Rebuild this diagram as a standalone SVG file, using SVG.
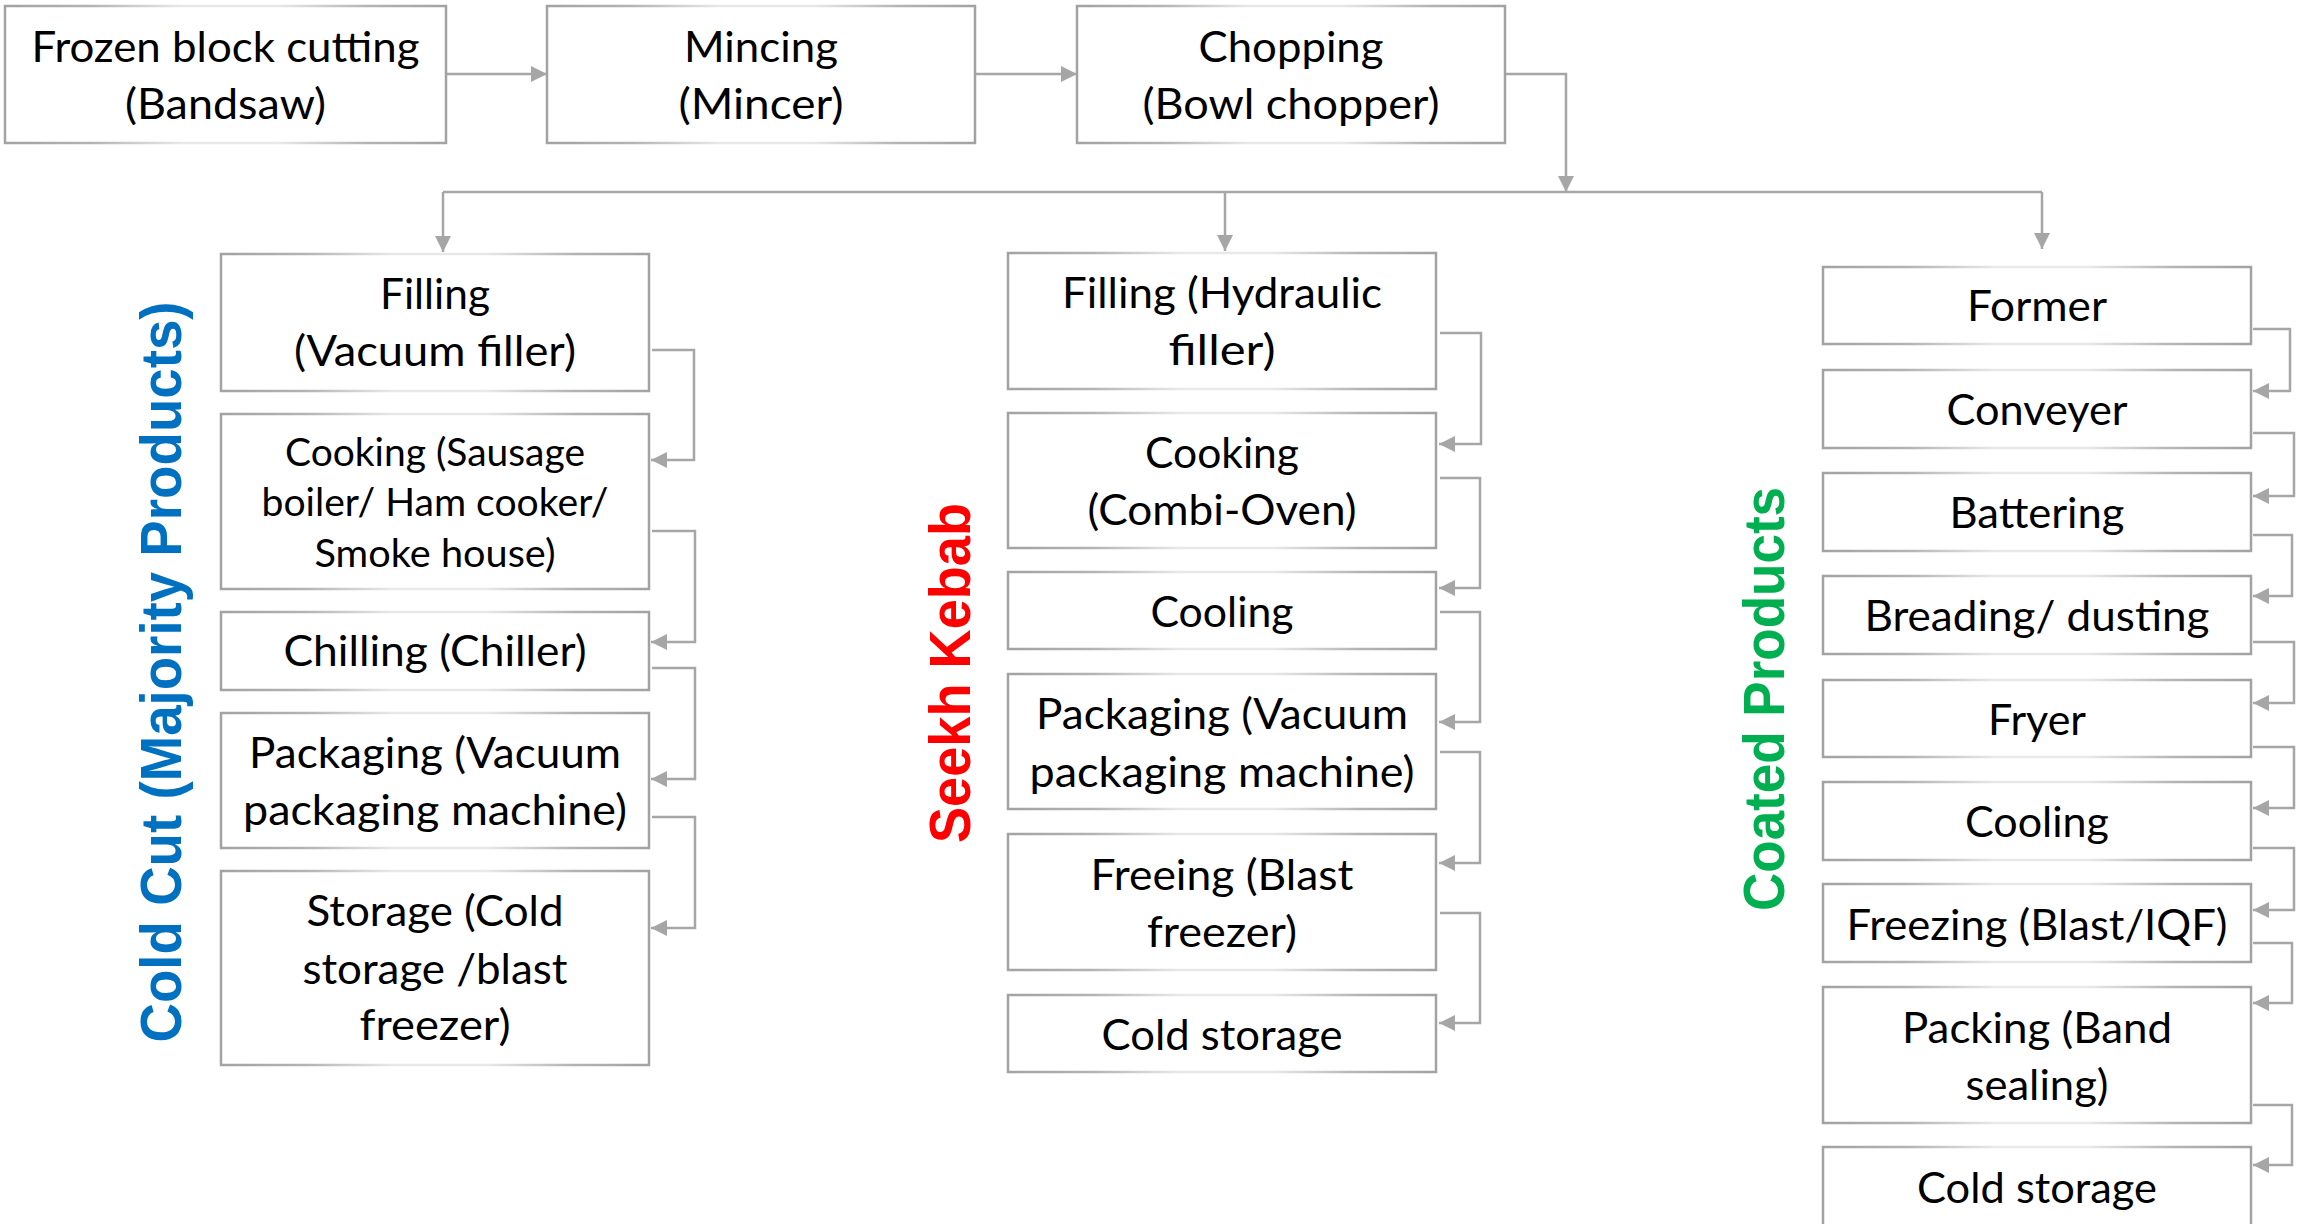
<svg xmlns="http://www.w3.org/2000/svg" width="2305" height="1224" viewBox="0 0 2305 1224">
<defs>
<linearGradient id="bg" x1="0" y1="0" x2="1" y2="0">
<stop offset="0" stop-color="#A2A2A2"/>
<stop offset="0.2" stop-color="#B4B4B4"/>
<stop offset="0.4" stop-color="#E8E8E8"/>
<stop offset="0.62" stop-color="#E8E8E8"/>
<stop offset="0.82" stop-color="#B4B4B4"/>
<stop offset="1" stop-color="#A2A2A2"/>
</linearGradient>
<marker id="ah" markerUnits="userSpaceOnUse" markerWidth="18" markerHeight="18" refX="16" refY="8" orient="auto">
<path d="M0,0 L16,8 L0,16 Z" fill="#A6A6A6"/>
</marker>
</defs>
<style>
rect.b{fill:#FFFFFF;stroke:url(#bg);stroke-width:2.5}
text.t{font-family:Lato,"Open Sans","Liberation Sans",sans-serif;font-size:43px;fill:#000;text-anchor:middle}
text.s{font-size:38px}
text.h{font-family:"Liberation Sans",Arial,sans-serif;font-weight:bold;font-size:58px;text-anchor:middle}
.c path{fill:none;stroke:#A6A6A6;stroke-width:2.5}
</style>
<rect width="2305" height="1224" fill="#FFFFFF"/>

<g id="connectors" class="c">
<path d="M446 74 H547" marker-end="url(#ah)"/>
<path d="M975 74 H1077" marker-end="url(#ah)"/>
<path d="M1505 74 H1566 V192" marker-end="url(#ah)"/>
<path d="M443 192 H2042"/>
<path d="M443 192 V252" marker-end="url(#ah)"/>
<path d="M1225 192 V251" marker-end="url(#ah)"/>
<path d="M2042 192 V249" marker-end="url(#ah)"/>
<path d="M652 350 H694 V460 H651" marker-end="url(#ah)"/>
<path d="M652 531 H695 V642 H651" marker-end="url(#ah)"/>
<path d="M652 668 H695 V779 H651" marker-end="url(#ah)"/>
<path d="M652 817 H695 V928 H651" marker-end="url(#ah)"/>
<path d="M1440 333 H1481 V444 H1439" marker-end="url(#ah)"/>
<path d="M1440 478 H1480 V588 H1439" marker-end="url(#ah)"/>
<path d="M1440 612 H1480 V722 H1439" marker-end="url(#ah)"/>
<path d="M1440 752 H1480 V863 H1439" marker-end="url(#ah)"/>
<path d="M1440 913 H1480 V1023 H1439" marker-end="url(#ah)"/>
<path d="M2253 329 H2290 V391 H2253" marker-end="url(#ah)"/>
<path d="M2253 433 H2294 V496 H2253" marker-end="url(#ah)"/>
<path d="M2253 535 H2292 V596 H2253" marker-end="url(#ah)"/>
<path d="M2253 642 H2294 V703 H2253" marker-end="url(#ah)"/>
<path d="M2253 747 H2294 V808 H2253" marker-end="url(#ah)"/>
<path d="M2253 848 H2294 V910 H2253" marker-end="url(#ah)"/>
<path d="M2253 943 H2292 V1003 H2253" marker-end="url(#ah)"/>
<path d="M2253 1105 H2292 V1165 H2253" marker-end="url(#ah)"/>
</g>

<g id="n-frozen"><rect class="b" x="5" y="6" width="441" height="137"/>
<text class="t" x="225.5" y="62" textLength="388" lengthAdjust="spacingAndGlyphs">Frozen block cutting</text>
<text class="t" x="225.5" y="119" textLength="201" lengthAdjust="spacingAndGlyphs">(Bandsaw)</text></g>
<g id="n-mincing"><rect class="b" x="547" y="6" width="428" height="137"/>
<text class="t" x="761" y="62" textLength="154" lengthAdjust="spacingAndGlyphs">Mincing</text>
<text class="t" x="761" y="119" textLength="165" lengthAdjust="spacingAndGlyphs">(Mincer)</text></g>
<g id="n-chopping"><rect class="b" x="1077" y="6" width="428" height="137"/>
<text class="t" x="1291" y="62" textLength="185" lengthAdjust="spacingAndGlyphs">Chopping</text>
<text class="t" x="1291" y="119" textLength="297" lengthAdjust="spacingAndGlyphs">(Bowl chopper)</text></g>

<g id="label-coldcut"><text class="h" fill="#0070C0" transform="translate(181 672) rotate(-90)" textLength="741" lengthAdjust="spacingAndGlyphs">Cold Cut (Majority Products)</text></g>
<g id="label-seekh"><text class="h" fill="#FF0000" transform="translate(970 673) rotate(-90)" textLength="340" lengthAdjust="spacingAndGlyphs">Seekh Kebab</text></g>
<g id="label-coated"><text class="h" fill="#00B050" transform="translate(1784 699) rotate(-90)" textLength="424" lengthAdjust="spacingAndGlyphs">Coated Products</text></g>

<g id="cc-filling"><rect class="b" x="221" y="254" width="428" height="137"/>
<text class="t" x="435" y="309" textLength="110" lengthAdjust="spacingAndGlyphs">Filling</text>
<text class="t" x="435" y="366" textLength="282" lengthAdjust="spacingAndGlyphs">(Vacuum filler)</text></g>
<g id="cc-cooking"><rect class="b" x="221" y="414" width="428" height="175"/>
<text class="t s" x="435" y="466" textLength="300" lengthAdjust="spacingAndGlyphs">Cooking (Sausage</text>
<text class="t s" x="435" y="516" textLength="347" lengthAdjust="spacingAndGlyphs">boiler/ Ham cooker/</text>
<text class="t s" x="435" y="567" textLength="241" lengthAdjust="spacingAndGlyphs">Smoke house)</text></g>
<g id="cc-chilling"><rect class="b" x="221" y="612" width="428" height="78"/>
<text class="t" x="435" y="666" textLength="303" lengthAdjust="spacingAndGlyphs">Chilling (Chiller)</text></g>
<g id="cc-packaging"><rect class="b" x="221" y="713" width="428" height="135"/>
<text class="t" x="435" y="768" textLength="372" lengthAdjust="spacingAndGlyphs">Packaging (Vacuum</text>
<text class="t" x="435" y="825" textLength="384" lengthAdjust="spacingAndGlyphs">packaging machine)</text></g>
<g id="cc-storage"><rect class="b" x="221" y="871" width="428" height="194"/>
<text class="t" x="435" y="926" textLength="257" lengthAdjust="spacingAndGlyphs">Storage (Cold</text>
<text class="t" x="435" y="984" textLength="265" lengthAdjust="spacingAndGlyphs">storage /blast</text>
<text class="t" x="435" y="1040" textLength="151" lengthAdjust="spacingAndGlyphs">freezer)</text></g>

<g id="sk-filling"><rect class="b" x="1008" y="253" width="428" height="136"/>
<text class="t" x="1222" y="308" textLength="320" lengthAdjust="spacingAndGlyphs">Filling (Hydraulic</text>
<text class="t" x="1222" y="365" textLength="107" lengthAdjust="spacingAndGlyphs">filler)</text></g>
<g id="sk-cooking"><rect class="b" x="1008" y="413" width="428" height="135"/>
<text class="t" x="1222" y="468" textLength="154" lengthAdjust="spacingAndGlyphs">Cooking</text>
<text class="t" x="1222" y="525" textLength="269" lengthAdjust="spacingAndGlyphs">(Combi-Oven)</text></g>
<g id="sk-cooling"><rect class="b" x="1008" y="572" width="428" height="77"/>
<text class="t" x="1222" y="627" textLength="143" lengthAdjust="spacingAndGlyphs">Cooling</text></g>
<g id="sk-packaging"><rect class="b" x="1008" y="674" width="428" height="135"/>
<text class="t" x="1222" y="729" textLength="372" lengthAdjust="spacingAndGlyphs">Packaging (Vacuum</text>
<text class="t" x="1222" y="787" textLength="385" lengthAdjust="spacingAndGlyphs">packaging machine)</text></g>
<g id="sk-freeing"><rect class="b" x="1008" y="834" width="428" height="136"/>
<text class="t" x="1222" y="890" textLength="263" lengthAdjust="spacingAndGlyphs">Freeing (Blast</text>
<text class="t" x="1222" y="947" textLength="150" lengthAdjust="spacingAndGlyphs">freezer)</text></g>
<g id="sk-coldstorage"><rect class="b" x="1008" y="995" width="428" height="77"/>
<text class="t" x="1222" y="1050" textLength="241" lengthAdjust="spacingAndGlyphs">Cold storage</text></g>

<g id="cp-former"><rect class="b" x="1823" y="267" width="428" height="77"/>
<text class="t" x="2037" y="321" textLength="140" lengthAdjust="spacingAndGlyphs">Former</text></g>
<g id="cp-conveyer"><rect class="b" x="1823" y="370" width="428" height="78"/>
<text class="t" x="2037" y="425" textLength="181" lengthAdjust="spacingAndGlyphs">Conveyer</text></g>
<g id="cp-battering"><rect class="b" x="1823" y="473" width="428" height="78"/>
<text class="t" x="2037" y="528" textLength="175" lengthAdjust="spacingAndGlyphs">Battering</text></g>
<g id="cp-breading"><rect class="b" x="1823" y="576" width="428" height="78"/>
<text class="t" x="2037" y="631" textLength="345" lengthAdjust="spacingAndGlyphs">Breading/ dusting</text></g>
<g id="cp-fryer"><rect class="b" x="1823" y="680" width="428" height="77"/>
<text class="t" x="2037" y="735" textLength="98" lengthAdjust="spacingAndGlyphs">Fryer</text></g>
<g id="cp-cooling"><rect class="b" x="1823" y="782" width="428" height="78"/>
<text class="t" x="2037" y="837" textLength="144" lengthAdjust="spacingAndGlyphs">Cooling</text></g>
<g id="cp-freezing"><rect class="b" x="1823" y="884" width="428" height="78"/>
<text class="t" x="2037" y="940" textLength="381" lengthAdjust="spacingAndGlyphs">Freezing (Blast/IQF)</text></g>
<g id="cp-packing"><rect class="b" x="1823" y="987" width="428" height="136"/>
<text class="t" x="2037" y="1043" textLength="270" lengthAdjust="spacingAndGlyphs">Packing (Band</text>
<text class="t" x="2037" y="1100" textLength="143" lengthAdjust="spacingAndGlyphs">sealing)</text></g>
<g id="cp-coldstorage"><rect class="b" x="1823" y="1147" width="428" height="80"/>
<text class="t" x="2037" y="1203" textLength="240" lengthAdjust="spacingAndGlyphs">Cold storage</text></g>
</svg>
